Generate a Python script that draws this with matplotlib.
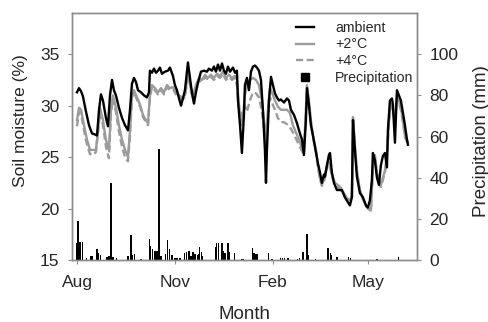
import matplotlib
matplotlib.use("Agg")
import matplotlib.pyplot as plt
from matplotlib.lines import Line2D

plt.rcParams['font.family'] = ['Liberation Sans', 'DejaVu Sans']

# days since 1 Aug
month_ticks = [0, 92, 184, 273]
month_labels = ["Aug", "Nov", "Feb", "May"]

amb_day = [0, 1.9, 3.8, 5.6, 8.5, 11.3, 14.1, 16.9, 18.8, 20.7, 22.5, 24.4, 27.2, 29.1, 31.0, 32.9,
           34.7, 36.6, 39.4, 42.3, 45.1, 47.9, 49.8, 51.6, 53.5, 55.4, 57.3, 60.1, 62.9, 65.7, 67.6,
           68.5, 70.4, 72.3, 74.2, 76.1, 77.9, 79.8, 82.6, 85.4, 87.3, 90.1, 92.0, 93.9, 95.8, 97.7,
           99.5, 101.4, 103.3, 104.2, 106.1, 107.0, 108.9, 109.9, 111.7, 113.6, 116.4, 119.2, 122.1,
           123.9, 126.8, 128.6, 130.5, 132.4, 134.3, 136.2, 138.0, 139.9, 141.8, 143.7, 146.5, 148.4,
           150.2, 151.2, 153.1, 154.9, 156.8, 157.7, 159.6, 161.5, 163.4, 165.3, 167.1, 169.0, 170.9,
           172.8, 174.6, 176.5, 177.5, 178.4, 180.3, 182.2, 184.0, 185.9, 187.8, 189.7, 191.5, 194.4,
           197.2, 199.1, 200.9, 203.8, 206.6, 209.4, 211.3, 213.1, 215.0, 216.0, 217.8, 219.7, 221.6,
           223.5, 226.3, 228.2, 230.0, 231.9, 232.9, 234.7, 236.6, 237.6, 239.4, 241.3, 244.1, 246.9,
           248.8, 251.6, 254.5, 256.3, 258.2, 259.2, 261.0, 262.9, 265.7, 268.5, 271.4, 273.2, 275.1,
           277.0, 277.9, 279.8, 281.7, 283.6, 285.4, 287.3, 289.2, 291.1, 292.0, 293.9, 295.8, 296.7,
           298.6, 300.5, 302.3, 304.2, 306.1, 308.0, 309.9, 310.8]
ambient = [31.3, 31.7, 31.4, 30.9, 29.4, 28.1, 27.3, 27.2, 27.1, 29.6, 31.1, 30.5, 28.8, 28.0, 31.0, 32.5,
           31.5, 31.0, 29.8, 28.8, 28.1, 27.6, 29.6, 32.1, 32.7, 32.3, 31.5, 31.3, 31.0, 30.8, 31.3,
           33.4, 33.2, 33.6, 33.2, 33.4, 33.7, 33.1, 33.3, 33.4, 33.7, 32.9, 32.0, 31.5, 30.7, 30.0,
           30.7, 31.5, 33.3, 34.2, 32.7, 32.0, 30.7, 30.2, 31.3, 32.2, 33.3, 33.4, 33.3,
           33.6, 33.4, 33.8, 33.3, 34.0, 33.4, 34.1, 33.4, 33.1, 33.8, 33.3, 33.7, 33.2,
           33.4, 30.5, 28.1, 25.4, 29.1, 32.0, 32.7, 31.5, 33.3, 33.8, 33.9, 33.7, 33.4,
           32.5, 29.6, 25.7, 22.5, 25.7, 30.5, 32.8, 32.0, 31.2, 30.8, 30.5, 30.6, 30.3,
           30.7, 30.5, 29.6, 29.1, 28.3, 27.3, 26.7, 25.2, 28.6, 31.7, 30.1, 28.1, 27.1,
           26.0, 24.4, 23.5, 22.5, 23.3, 23.1, 24.2, 25.2, 25.4, 23.5, 22.5, 21.8, 21.8,
           21.8, 21.1, 20.6, 20.3, 21.1, 28.6, 25.7, 23.1, 21.5, 21.1, 20.3, 20.1, 20.8,
           22.8, 25.4, 24.7, 23.0, 22.3, 24.2, 25.1, 25.4, 24.0, 27.6, 30.5, 30.7, 30.1,
           26.4, 31.5, 31.0, 30.5, 29.3, 28.1, 26.7, 26.2]

warm_day = [0, 1.9, 3.8, 6.6, 9.4, 12.2, 15.0, 17.8, 19.7, 21.6, 24.4, 27.2, 30.0, 31.9, 33.8, 36.6,
            39.4, 42.3, 45.1, 47.9, 49.8, 51.6, 53.5, 56.3, 59.2, 62.0, 64.8, 66.7, 68.5, 70.4, 73.2,
            76.1, 78.9, 81.7, 84.5, 87.3, 90.1, 93.0, 95.8, 98.6, 101.4, 103.3, 105.2, 107.0, 108.9,
            111.7, 114.6, 117.4, 120.2, 123.0, 125.8, 128.6, 131.5, 134.3, 137.1, 139.9, 142.7, 145.5,
            148.4, 150.2, 152.1, 154.0, 155.9, 157.7, 159.6, 162.4, 165.3, 168.1, 170.9, 173.7, 175.6,
            177.5, 179.3, 181.2, 183.1, 185.9, 188.7, 191.5, 194.4, 197.2, 200.0, 202.8, 205.6, 208.5,
            211.3, 213.1, 215.0, 216.0, 217.8, 219.7, 221.6, 224.4, 226.3, 228.2, 230.0, 231.9, 233.8,
            235.7, 237.6, 239.4, 242.3, 245.1, 247.9, 250.7, 253.5, 256.3, 258.2, 259.2, 261.0, 262.9,
            265.7, 268.5, 271.4, 274.2, 276.1, 277.9, 279.8, 281.7, 283.6, 285.4, 287.3, 289.2, 291.1,
            293.0, 294.8, 296.7, 298.6, 300.5, 302.3, 304.2, 306.1, 308.0, 309.9, 310.8]
plus2 = [28.6, 29.8, 29.6, 28.1, 26.7, 25.7, 25.7, 25.7, 27.6, 29.8, 28.6, 26.7, 25.7, 29.6, 31.0, 29.8,
         28.1, 26.7, 25.7, 25.0, 27.6, 31.0, 31.5, 30.8, 30.1, 29.1, 28.6, 28.3, 31.0, 32.0, 31.7,
         31.3, 31.7, 31.3, 32.0, 31.7, 31.8, 31.3, 31.0, 30.8, 31.0, 32.5, 33.0, 31.5, 31.0,
         32.0, 32.7, 32.5, 33.0, 32.7, 33.0, 32.7, 33.1, 32.9, 33.3, 32.7, 33.0, 32.7,
         32.9, 32.5, 30.1, 28.1, 28.8, 31.0, 32.0, 32.5, 32.7, 32.5, 32.0, 30.5, 28.6,
         26.7, 29.6, 31.7, 31.3, 30.5, 29.9, 29.6, 29.6, 29.6, 29.3, 28.1, 27.4, 26.7,
         25.9, 25.5, 29.6, 32.0, 30.5, 28.6, 27.1, 25.7, 24.2, 23.0, 22.3, 22.8, 23.7,
         24.5, 24.4, 23.3, 22.5, 22.3, 22.0, 21.5, 21.0, 20.8, 21.3, 28.9, 26.2, 23.7,
         21.8, 21.0, 20.3, 20.0, 19.9, 24.2, 25.2, 23.5, 22.8, 22.3, 23.0, 23.7, 25.2,
         28.6, 30.2, 29.6, 28.6, 31.0, 30.5, 29.8, 28.6, 27.1, 26.7, 26.4]
plus4 = [28.0, 29.4, 29.2, 27.6, 26.2, 25.3, 25.2, 25.5, 27.3, 29.4, 28.1, 26.0, 24.9, 29.2, 30.7, 29.4,
         27.5, 26.0, 25.0, 24.6, 27.2, 30.8, 31.3, 30.6, 29.9, 28.9, 28.4, 28.1, 30.8, 31.8, 31.5,
         31.1, 31.5, 31.1, 31.8, 31.5, 31.6, 31.1, 30.8, 30.6, 30.8, 32.3, 32.8, 31.3, 30.8,
         31.8, 32.5, 32.3, 32.8, 32.5, 32.8, 32.5, 32.9, 32.7, 33.1, 32.5, 32.8, 32.5,
         32.7, 32.0, 29.8, 29.0, 29.5, 30.0, 29.4, 30.5, 31.3, 31.2, 30.8, 29.4, 27.8,
         26.3, 28.8, 30.8, 30.3, 29.6, 28.8, 28.4, 28.4, 28.2, 27.9, 27.4, 26.8, 26.2,
         25.6, 25.3, 29.3, 31.8, 30.3, 28.4, 26.9, 25.5, 24.0, 22.9, 22.2, 22.6, 23.5,
         24.3, 24.2, 23.1, 22.4, 22.1, 21.8, 21.3, 20.9, 20.7, 21.2, 28.7, 26.0, 23.5,
         21.7, 20.9, 20.2, 19.9, 19.8, 24.0, 25.0, 23.3, 22.6, 22.1, 22.8, 23.5, 25.0,
         28.4, 30.0, 29.4, 28.4, 30.8, 30.3, 29.6, 28.4, 26.9, 26.5, 26.2]

precip_day = [0, 1, 3, 5, 9, 13, 14, 19, 20, 22, 28, 30, 32, 34, 37, 48, 51, 52, 54, 60, 68, 69, 71, 73,
              75, 77, 79, 83, 85, 87, 89, 92, 94, 97, 101, 103, 105, 107, 109, 111, 113, 114, 115, 117,
              118, 130, 131, 133, 136, 137, 139, 142, 143, 148, 155, 156, 165, 166, 168, 169, 180, 183,
              191, 193, 195, 198, 207, 209, 212, 216, 217, 224, 236, 238, 239, 244, 255, 257, 282, 302]
precip = [8.4, 19, 8.9, 8.9, 1, 2, 2, 5.3, 3.6, 2.4, 1.7, 2, 37.5, 1.7, 1, 2, 12, 2.3, 2.8, 0.7, 10, 6.7,
          5.5, 4.3, 4.3, 53.7, 2, 3, 9.7, 5.5, 2.3, 1, 1.2, 0.8, 3.5, 4, 4.3, 2, 4, 3, 2.4, 3, 6.5, 4,
          2, 6.5, 8.2, 8.4, 8.4, 4.3, 3.5, 8.4, 3.8, 3.2, 0.7, 0.7, 6, 3.5, 2.8, 3, 3.2, 0.7,
          1.2, 1.2, 1.2, 1.2, 0.7, 1.2, 3.9, 12.6, 2.5, 0.7, 6, 3.5, 2.3, 1.5, 1.5, 1.2, 0.5, 1.5]

spine_col = '#8c8c8c'
text_col = '#262626'
gray = '#9b9b9b'

fig = plt.figure(figsize=(4.89, 3.22), dpi=100)
ax = fig.add_axes([0.1472, 0.1925, 0.7055, 0.767])
ax2 = ax.twinx()

ax2.bar(precip_day, precip, width=1.5, color='black', linewidth=0)
ax2.set_ylim(0, 120)
ax2.set_yticks([0, 20, 40, 60, 80, 100])

ax.plot(amb_day, ambient, color='black', lw=1.7, zorder=4)
ax.plot(warm_day, plus2, color=gray, lw=1.7, zorder=3)
ax.plot(warm_day, plus4, color=gray, lw=1.7, ls=(0, (3, 1.5)), zorder=2)
ax.set_zorder(ax2.get_zorder() + 1)
ax.patch.set_visible(False)

ax.set_ylim(15, 39)
ax.set_yticks([15, 20, 25, 30, 35])
ax.set_xlim(-4.7, 319.3)
ax.set_xticks(month_ticks)
ax.set_xticklabels(month_labels)

for a in (ax, ax2):
    for s in a.spines.values():
        s.set_color(spine_col)
        s.set_linewidth(1.0)
    a.tick_params(colors=spine_col, labelcolor=text_col, labelsize=12.5, length=3, width=0.8, pad=6)
ax.tick_params(axis='x', pad=8)

ax.set_xlabel("Month", fontsize=13.5, color=text_col, labelpad=11)
ax.set_ylabel("Soil moisture (%)", fontsize=12.5, color=text_col)
ax.yaxis.set_label_coords(-0.128, 0.565)
ax2.set_ylabel("Precipitation (mm)", fontsize=13.5, color=text_col)
ax2.yaxis.set_label_coords(1.163, 0.48)

handles = [Line2D([], [], color='black', lw=1.7),
           Line2D([], [], color=gray, lw=1.7),
           Line2D([], [], color=gray, lw=1.7, ls=(0, (3, 1.5))),
           Line2D([], [], color='black', lw=0, marker='s', markersize=6)]
labels = ["ambient", "+2°C", "+4°C", "Precipitation"]
leg = ax.legend(handles, labels, loc='upper left', bbox_to_anchor=(0.648, 0.968), frameon=False,
                fontsize=10.2, handlelength=1.3, handletextpad=1.5, labelspacing=0.18,
                borderpad=0, borderaxespad=0)
for t in leg.get_texts():
    t.set_color(text_col)

fig.savefig("out.png", dpi=100)
